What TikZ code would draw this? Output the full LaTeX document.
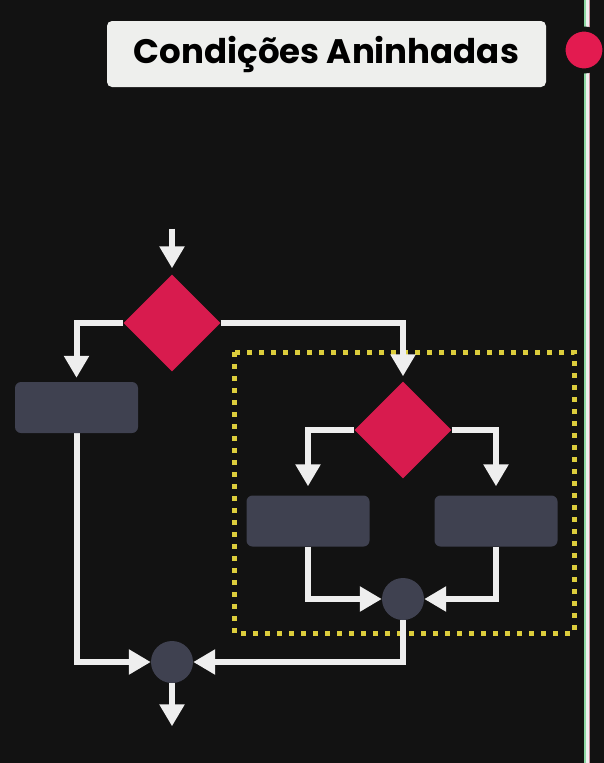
\documentclass[tikz,border=0pt]{standalone}
\usepackage{fontspec}
\newfontfamily\titlefont{Poppins}
\usetikzlibrary{arrows.meta,positioning,shapes.geometric}
\pgfdeclarelayer{bglayer}
\pgfdeclarelayer{edgelayer}
\pgfdeclarelayer{nodelayer}
\pgfsetlayers{bglayer,edgelayer,nodelayer,main}
\definecolor{bgdark}{HTML}{121212}
\definecolor{titlegray}{HTML}{EEEFED}
\definecolor{dred}{HTML}{D81B4E}
\definecolor{dotred}{HTML}{E31B50}
\definecolor{boxgray}{HTML}{3F4150}
\definecolor{lwhite}{HTML}{EEEEEE}
\definecolor{dyellow}{HTML}{DCCD3C}
\definecolor{railgreen}{HTML}{8FD8A4}
\definecolor{railpink}{HTML}{C98A9A}
\tikzstyle{none}=[inner sep=0pt]
\tikzstyle{titlebox}=[rectangle,rounded corners=5pt,fill=titlegray,minimum width=439pt,minimum height=66pt,font=\titlefont\bfseries\fontsize{34}{40}\selectfont,text=black]
\tikzstyle{decision}=[diamond,fill=dred,minimum width=97pt,minimum height=97pt,inner sep=0pt]
\tikzstyle{action}=[rectangle,rounded corners=6pt,fill=boxgray,minimum width=123pt,minimum height=51pt]
\tikzstyle{merge}=[circle,fill=boxgray,minimum size=42pt,inner sep=0pt]
\tikzstyle{flow}=[-{Triangle[width=24pt,length=22pt]},draw=lwhite,line width=6pt]
\tikzstyle{nestbox}=[draw=dyellow,line width=5pt,dash pattern=on 5pt off 7pt]
\tikzstyle{recdot}=[circle,fill=dotred,draw=bgdark,line width=5pt,minimum size=42pt,inner sep=0pt]

\begin{document}
\begin{tikzpicture}[x=1pt,y=-1pt]
	\useasboundingbox (0,0) rectangle (604,763);
	\begin{pgfonlayer}{bglayer}
		\fill [bgdark] (0,0) rectangle (604,763);
		% rail on the right
		\draw [draw=railgreen, line width=2pt] (585,0) -- (585,763);
		\draw [draw=lwhite, line width=3pt] (587.5,0) -- (587.5,763);
		\draw [draw=railpink, line width=0.8pt] (589.4,0) -- (589.4,763);
		% nested block
		\draw [style=nestbox] (234,352) rectangle (574,633);
	\end{pgfonlayer}
	\begin{pgfonlayer}{nodelayer}
		\node [style=titlebox] (title) at (326.5,54) {Condições Aninhadas};
		\node [style=recdot] (rec) at (584,50) {};
		\node [style=none] (start) at (172,228) {};
		\node [style=decision] (outer) at (172,323) {};
		\node [style=action] (elseblock) at (76.5,407.5) {};
		\node [style=decision] (inner) at (403,430) {};
		\node [style=action] (thenblock) at (308,521) {};
		\node [style=action] (innerelse) at (496,521) {};
		\node [style=merge] (innerjoin) at (403,599) {};
		\node [style=merge] (outerjoin) at (172,662) {};
		\node [style=none] (end) at (172,727) {};
	\end{pgfonlayer}
	\begin{pgfonlayer}{edgelayer}
		\draw [style=flow, shorten >=6pt] (start) to (outer.north);
		\draw [style=flow, shorten >=4pt] (outer.west) -| (elseblock.north);
		\draw [style=flow, shorten >=5pt] (outer.east) -| (inner.north);
		\draw [style=flow, shorten >=9pt] (inner.west) -| (thenblock.north);
		\draw [style=flow, shorten >=9pt] (inner.east) -| (innerelse.north);
		\draw [style=flow] (thenblock.south) |- (innerjoin.west);
		\draw [style=flow] (innerelse.south) |- (innerjoin.east);
		\draw [style=flow] (innerjoin.south) |- (outerjoin.east);
		\draw [style=flow] (elseblock.south) |- (outerjoin.west);
		\draw [style=flow] (outerjoin.south) to (end);
	\end{pgfonlayer}
\end{tikzpicture}
\end{document}
